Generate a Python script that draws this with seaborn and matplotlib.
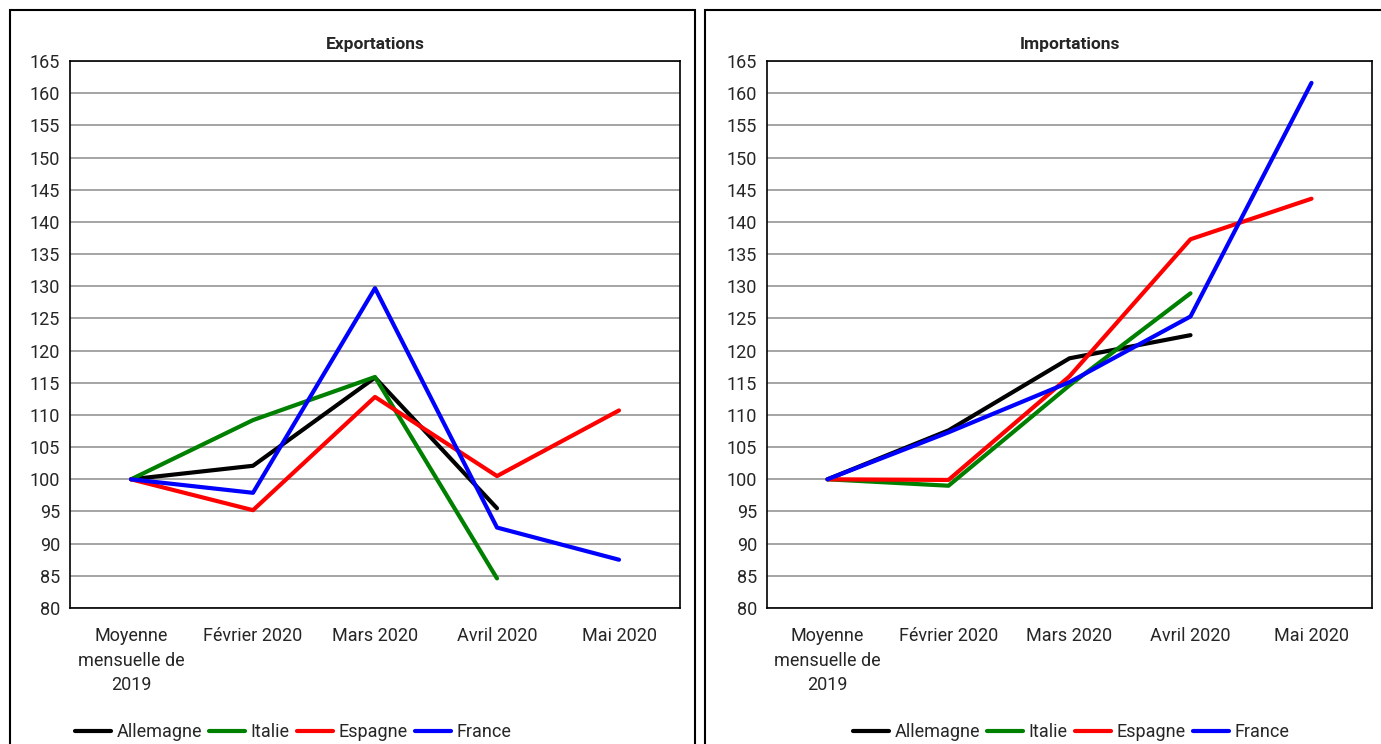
import numpy as np
import pandas as pd
import matplotlib.pyplot as plt
import matplotlib.patches as patches
import seaborn as sns

mois = ["Moyenne\nmensuelle de\n2019", "Février 2020", "Mars 2020", "Avril 2020", "Mai 2020"]
pays = ["Allemagne", "Italie", "Espagne", "France"]
couleurs = ["#000000", "#008000", "#ff0000", "#0000ff"]

# indices base 100 = moyenne mensuelle 2019
exp_allemagne = [100, 102.1, 115.8, 95.5, np.nan]
exp_italie = [100, 109.2, 115.9, 84.6, np.nan]
exp_espagne = [100, 95.2, 112.8, 100.5, 110.7]
exp_france = [100, 97.9, 129.7, 92.5, 87.5]

imp_allemagne = [100, 107.6, 118.8, 122.4, np.nan]
imp_italie = [100, 99.0, 114.6, 128.9, np.nan]
imp_espagne = [100, 99.9, 116.0, 137.3, 143.6]
imp_france = [100, 107.3, 115.1, 125.3, 161.6]


def to_long(series):
    rows = []
    for p, vals in zip(pays, series):
        for i, v in enumerate(vals):
            if not np.isnan(v):
                rows.append({"pays": p, "x": i, "valeur": v})
    return pd.DataFrame(rows)


df_exp = to_long([exp_allemagne, exp_italie, exp_espagne, exp_france])
df_imp = to_long([imp_allemagne, imp_italie, imp_espagne, imp_france])

sns.set_style("white")
plt.rcParams['font.family'] = ['Roboto', 'DejaVu Sans']

W, H = 1381, 744
fig = plt.figure(figsize=(W / 100, H / 100), dpi=100)

# cadres des deux graphiques
for x0, x1 in [(10, 695), (705, 1395)]:
    fig.patches.append(patches.Rectangle((x0 / W, -0.02), (x1 - x0) / W, 1 - 10 / H + 0.02,
                                         transform=fig.transFigure, fill=False,
                                         edgecolor="black", linewidth=1.5))

panels = [
    (df_exp, "Exportations", (70, 680), 293),
    (df_imp, "Importations", (767, 1372), 1071),
]

for df, titre, (xa, xb), leg_x in panels:
    ax = fig.add_axes([xa / W, 1 - 608 / H, (xb - xa) / W, (608 - 61) / H])
    sns.lineplot(data=df, x="x", y="valeur", hue="pays", hue_order=pays,
                 palette=couleurs, linewidth=3.0, ax=ax, legend=True, sort=False)
    ax.set_xlim(-0.5, 4.5)
    ax.set_ylim(80, 165)
    ax.set_yticks(range(80, 166, 5))
    ax.set_xticks(np.arange(-0.5, 4.6, 1))
    ax.set_xticklabels([])
    ax.set_xticks(range(5), minor=True)
    ax.set_xticklabels(mois, minor=True, fontsize=13, linespacing=1.45, va="top")
    ax.tick_params(axis="x", which="minor", length=0, pad=14)
    ax.tick_params(axis="x", which="major", direction="out", length=5, width=1, color="black")
    ax.tick_params(axis="y", direction="out", length=5, width=1, color="black", labelsize=13, pad=2)
    ax.yaxis.grid(True, color="#8c8c8c", linewidth=1.1)
    ax.set_axisbelow(True)
    for s in ax.spines.values():
        s.set_color("black")
        s.set_linewidth(1.2)
    ax.set_xlabel("")
    ax.set_ylabel("")
    ax.set_title(titre, fontsize=12.5, fontweight="bold", pad=9)
    handles, labels = ax.get_legend_handles_labels()
    ax.legend_.remove()
    ax.legend(handles, labels, loc="center", bbox_to_anchor=(leg_x / W, 1 - 732 / H),
              bbox_transform=fig.transFigure, ncol=4, frameon=False, fontsize=13,
              handlelength=2.0, handletextpad=0.3, columnspacing=0.4, borderaxespad=0)

fig.savefig("out.png", dpi=100)
